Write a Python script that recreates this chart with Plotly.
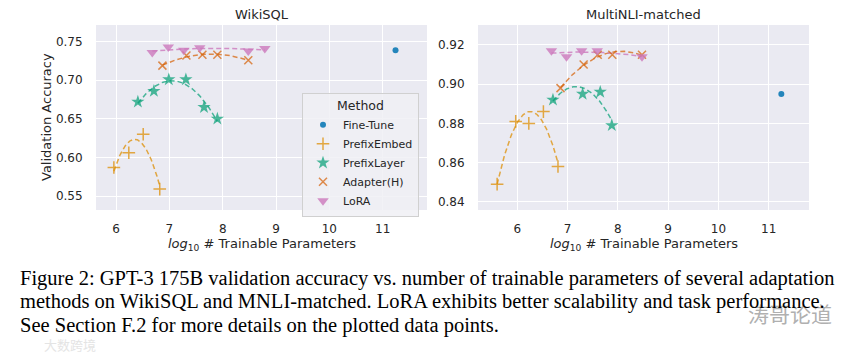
import numpy as np
import plotly.graph_objects as go
from plotly.subplots import make_subplots

methods = ["Fine-Tune", "PrefixEmbed", "PrefixLayer", "Adapter(H)", "LoRA"]

# WikiSQL
wiki_ft_x = [11.24]
wiki_ft_y = [0.739]
wiki_pe_x = [5.96, 6.24, 6.51, 6.82]
wiki_pe_y = [0.587, 0.606, 0.630, 0.559]
wiki_pl_x = [6.41, 6.71, 6.99, 7.31, 7.65, 7.90]
wiki_pl_y = [0.672, 0.686, 0.701, 0.701, 0.665, 0.650]
wiki_ad_x = [6.87, 7.32, 7.62, 7.90, 8.48]
wiki_ad_y = [0.719, 0.732, 0.733, 0.733, 0.726]
wiki_lo_x = [6.68, 6.98, 7.27, 7.57, 8.48, 8.79]
wiki_lo_y = [0.736, 0.743, 0.739, 0.742, 0.738, 0.741]

# MultiNLI-matched
mnli_ft_x = [11.25]
mnli_ft_y = [0.895]
mnli_pe_x = [5.60, 5.97, 6.23, 6.52, 6.81]
mnli_pe_y = [0.849, 0.881, 0.880, 0.886, 0.858]
mnli_pl_x = [6.71, 7.30, 7.65, 7.88]
mnli_pl_y = [0.892, 0.895, 0.896, 0.879]
mnli_ad_x = [6.86, 7.32, 7.60, 7.89, 8.48]
mnli_ad_y = [0.898, 0.910, 0.915, 0.915, 0.915]
mnli_lo_x = [6.68, 6.98, 7.28, 7.59, 8.48]
mnli_lo_y = [0.917, 0.914, 0.917, 0.917, 0.914]

x_ticks = [6, 7, 8, 9, 10, 11]
wiki_y_ticks = [0.55, 0.60, 0.65, 0.70, 0.75]
mnli_y_ticks = [0.84, 0.86, 0.88, 0.90, 0.92]

caption_lines = [
    "Figure 2: GPT-3 175B validation accuracy vs. number of trainable parameters of several adaptation",
    "methods on WikiSQL and MNLI-matched. LoRA exhibits better scalability and task performance.",
    "See Section F.2 for more details on the plotted data points.",
]

colors = {
    "Fine-Tune": "rgba(1,115,178,0.85)",
    "PrefixEmbed": "rgba(222,143,5,0.75)",
    "PrefixLayer": "rgba(2,158,115,0.7)",
    "Adapter(H)": "rgba(213,94,0,0.7)",
    "LoRA": "rgba(204,120,188,0.8)",
}
symbols = {
    "Fine-Tune": ("circle", 6),
    "PrefixEmbed": ("cross-thin", 9),
    "PrefixLayer": ("star", 10),
    "Adapter(H)": ("x-thin", 8),
    "LoRA": ("triangle-down", 10),
}

fig = make_subplots(rows=1, cols=2)

panels = [
    (1, [(wiki_ft_x, wiki_ft_y), (wiki_pe_x, wiki_pe_y), (wiki_pl_x, wiki_pl_y),
         (wiki_ad_x, wiki_ad_y), (wiki_lo_x, wiki_lo_y)]),
    (2, [(mnli_ft_x, mnli_ft_y), (mnli_pe_x, mnli_pe_y), (mnli_pl_x, mnli_pl_y),
         (mnli_ad_x, mnli_ad_y), (mnli_lo_x, mnli_lo_y)]),
]

for col, series in panels:
    for m, (xs, ys) in zip(methods, series):
        c = colors[m]
        if len(xs) >= 3:
            coef = np.polyfit(xs, ys, 2)
            fx = np.linspace(min(xs), max(xs), 80)
            fy = np.polyval(coef, fx)
            fig.add_trace(go.Scatter(x=fx, y=fy, mode="lines",
                                     line=dict(color=c, width=1.5, dash="5px,3px"),
                                     showlegend=False, hoverinfo="skip"),
                          row=1, col=col)
    for m, (xs, ys) in zip(methods, series):
        c = colors[m]
        sym, sz = symbols[m]
        thin = sym.endswith("-thin")
        marker = dict(symbol=sym, size=sz, color=c,
                      line=dict(color=c, width=1.5 if thin else 0))
        fig.add_trace(go.Scatter(x=xs, y=ys, mode="markers", marker=marker,
                                 name=m, legendgroup=m, showlegend=(col == 1)),
                      row=1, col=col)

axis_common = dict(showgrid=True, gridcolor="white", gridwidth=1.2, zeroline=False,
                   showline=False, ticks="outside", tickcolor="rgba(0,0,0,0)",
                   tickfont=dict(family="DejaVu Sans", size=12, color="#262626"))

fig.update_xaxes(**axis_common, tickvals=x_ticks, ticklen=8)
fig.update_xaxes(domain=[96/856, 427/856], range=[5.625, 11.83], row=1, col=1)
fig.update_xaxes(domain=[478/856, 809/856], range=[5.22, 11.8], row=1, col=2)
fig.update_yaxes(**axis_common, ticklen=10)
fig.update_yaxes(domain=[1-210/353, 1-25/353], range=[0.5319, 0.7716],
                 tickvals=wiki_y_ticks, tickformat=".2f", row=1, col=1)
fig.update_yaxes(domain=[1-210/353, 1-25/353], range=[0.8358, 0.9302],
                 tickvals=mnli_y_ticks, tickformat=".2f", row=1, col=2)

txt = dict(family="DejaVu Sans", size=13, color="#262626")
ann = [
    dict(text="WikiSQL", x=(96+427)/2/856, y=1-15/353, xref="paper", yref="paper",
         showarrow=False, font=txt, xanchor="center", yanchor="middle"),
    dict(text="MultiNLI-matched", x=(478+809)/2/856, y=1-15/353, xref="paper", yref="paper",
         showarrow=False, font=txt, xanchor="center", yanchor="middle"),
    dict(text="<i>log</i><sub>10</sub> # Trainable Parameters", x=(96+427)/2/856, y=1-244/353,
         xref="paper", yref="paper", showarrow=False, font=txt, xanchor="center", yanchor="middle"),
    dict(text="<i>log</i><sub>10</sub> # Trainable Parameters", x=(478+809)/2/856, y=1-244/353,
         xref="paper", yref="paper", showarrow=False, font=txt, xanchor="center", yanchor="middle"),
    dict(text="Validation Accuracy", x=47/856, y=1-117/353, xref="paper", yref="paper",
         showarrow=False, font=txt, textangle=-90, xanchor="center", yanchor="middle"),
    dict(text="涛哥论道", x=790/856, y=1-313/353, xref="paper", yref="paper", showarrow=False,
         font=dict(family="Noto Sans CJK SC", size=21, color="#b0b0b0"), xanchor="center", yanchor="middle"),
    dict(text="大数跨境", x=42/856, y=1-344/353, xref="paper", yref="paper", showarrow=False,
         font=dict(family="Noto Sans CJK SC", size=13, color="#e4e4e4"), xanchor="left", yanchor="middle"),
]
for i, line in enumerate(caption_lines):
    ann.append(dict(text=line, x=18/856, y=1-(278 + 23.5*i)/353, xref="paper", yref="paper",
                    showarrow=False, align="left",
                    font=dict(family="Liberation Serif", size=20.5, color="black"),
                    xanchor="left", yanchor="middle"))

fig.update_layout(
    width=856, height=353,
    margin=dict(l=0, r=0, t=0, b=0),
    paper_bgcolor="white", plot_bgcolor="#eaeaf2",
    annotations=ann,
    legend=dict(x=302/856, y=1-93/353, xanchor="left", yanchor="top",
                bgcolor="rgba(240,240,245,0.85)", bordercolor="#d0d0d0", borderwidth=1,
                font=dict(family="DejaVu Sans", size=11, color="#262626"),
                title=dict(text="Method", side="top center",
                           font=dict(family="DejaVu Sans", size=12.5, color="#262626")),
                itemwidth=30, tracegroupgap=0),
    showlegend=True,
)

fig.write_html("out.html")
